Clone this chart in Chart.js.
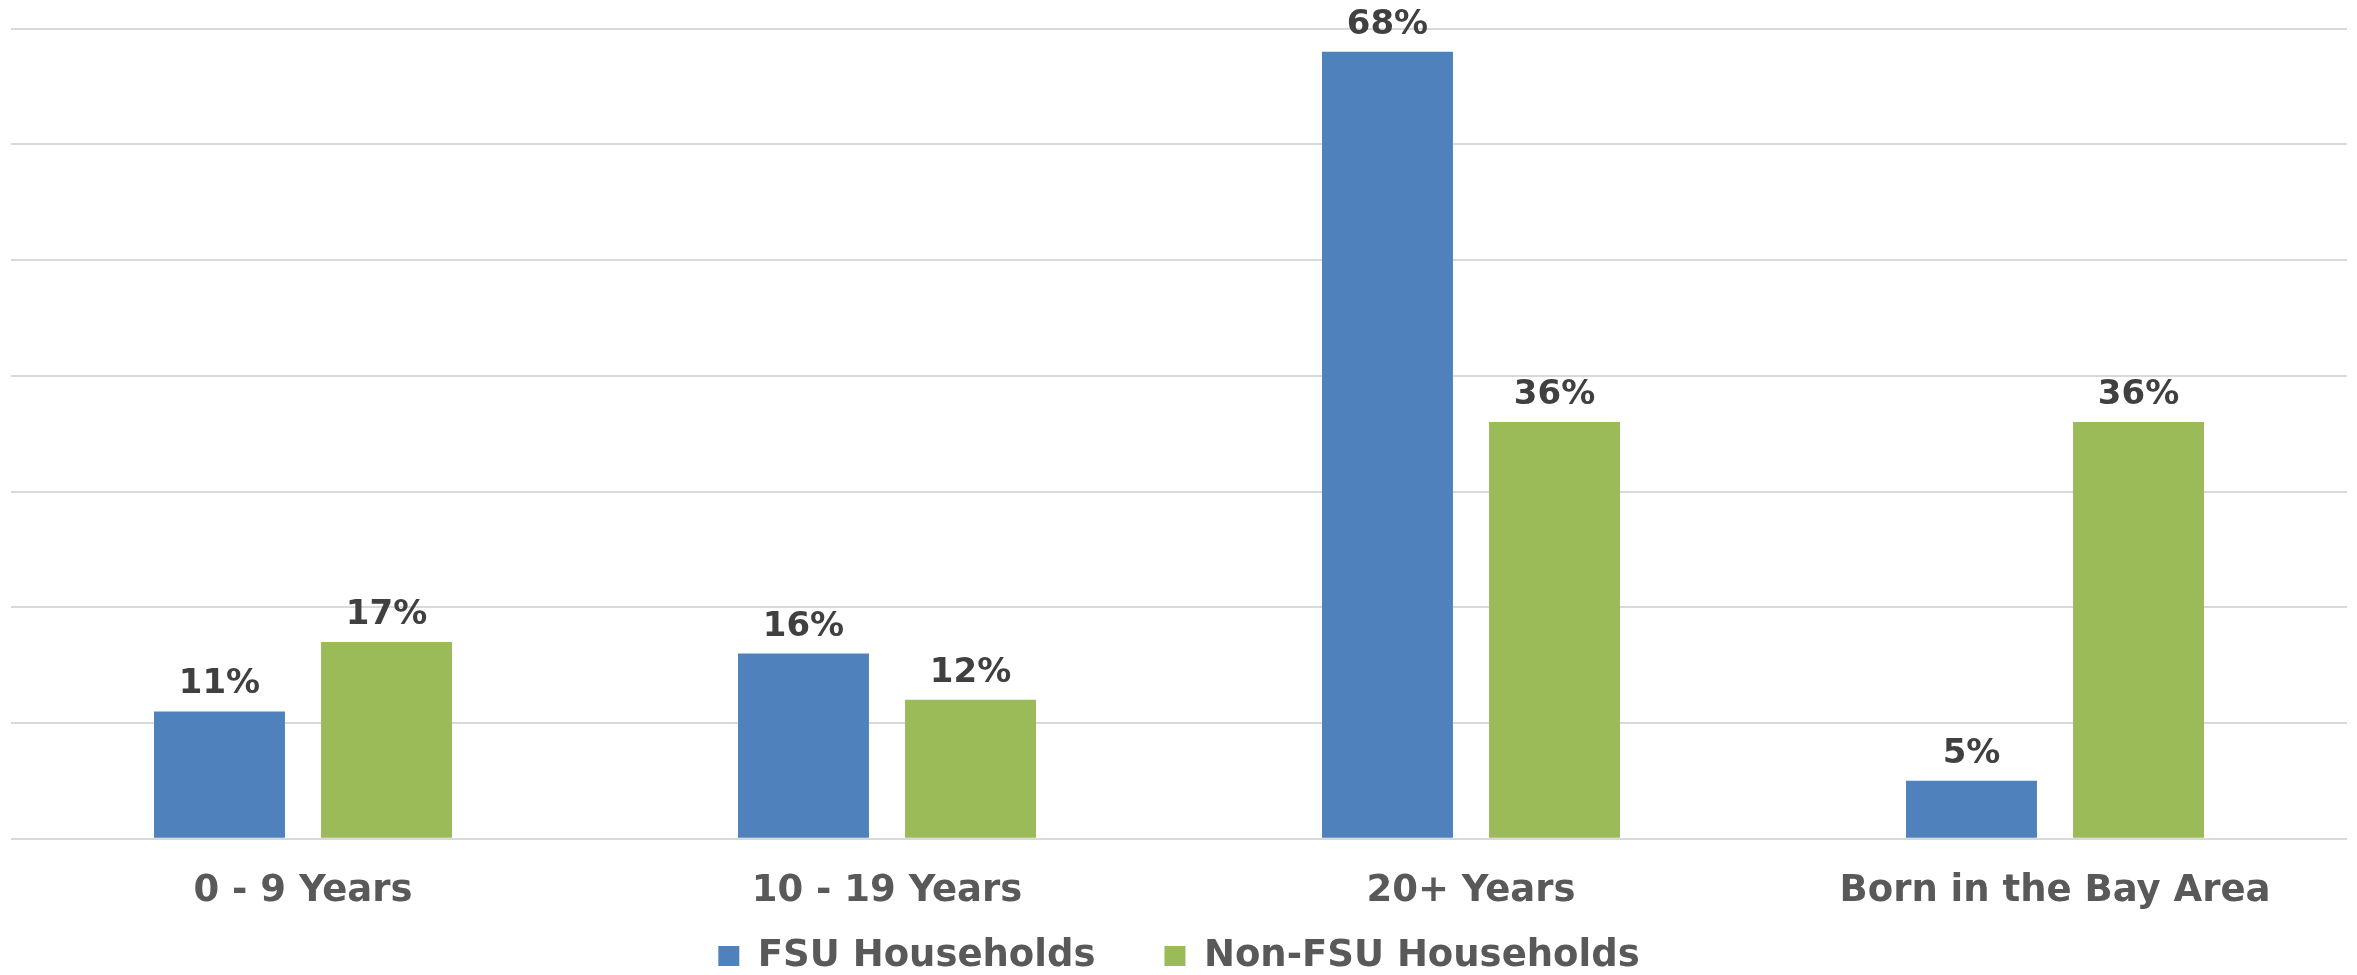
<!DOCTYPE html>
<html>
<head>
<meta charset="utf-8">
<script src="https://cdn.jsdelivr.net/npm/chart.js@4/dist/chart.umd.min.js"></script>
<style>
  html, body { margin: 0; padding: 0; background: #ffffff; }
  #wrap { width: 2357px; height: 975px; }
</style>
</head>
<body>
<div id="wrap"><canvas id="c" width="2357" height="975"></canvas></div>
<script>
const categories = ['0 - 9 Years', '10 - 19 Years', '20+ Years', 'Born in the Bay Area'];
const fsuValues = [11, 16, 68, 5];
const nonFsuValues = [17, 12, 36, 36];
const seriesNames = ['FSU Households', 'Non-FSU Households'];
const yTicks = [0, 10, 20, 30, 40, 50, 60, 70];

const FONT = "'DejaVu Sans', Verdana, sans-serif";

const valueLabels = {
  id: 'valueLabels',
  afterDatasetsDraw(chart) {
    const ctx = chart.ctx;
    ctx.save();
    ctx.font = 'bold 34px ' + FONT;
    ctx.fillStyle = '#404040';
    ctx.textAlign = 'center';
    ctx.textBaseline = 'alphabetic';
    chart.data.datasets.forEach((ds, di) => {
      const meta = chart.getDatasetMeta(di);
      meta.data.forEach((bar, i) => {
        ctx.fillText(ds.data[i] + '%', bar.x, bar.y - 18);
      });
    });
    ctx.restore();
  }
};

new Chart(document.getElementById('c'), {
  type: 'bar',
  data: {
    labels: categories,
    datasets: [
      { label: seriesNames[0], data: fsuValues, backgroundColor: '#4F81BD', borderWidth: 0,
        barPercentage: 0.784, categoryPercentage: 0.572 },
      { label: seriesNames[1], data: nonFsuValues, backgroundColor: '#9BBB59', borderWidth: 0,
        barPercentage: 0.784, categoryPercentage: 0.572 }
    ]
  },
  options: {
    responsive: false,
    animation: false,
    devicePixelRatio: 1,
    layout: { padding: { left: 11, right: 10, top: 28.6, bottom: 0 } },
    plugins: {
      tooltip: { enabled: false },
      legend: {
        position: 'bottom',
        maxHeight: 106.5,
        labels: {
          boxWidth: 21,
          boxHeight: 20,
          padding: 69,
          color: '#595959',
          font: { family: FONT, size: 37, weight: 'bold' }
        }
      }
    },
    scales: {
      x: {
        grid: { display: false },
        border: { display: false },
        ticks: {
          color: '#595959',
          padding: 22.5,
          font: { family: FONT, size: 37, weight: 'bold' },
          maxRotation: 0, autoSkip: false
        },
        afterFit(scale) {
          scale.height = 29.8;
          // let the category labels extend below the (short) axis box without clipping
          scale._computeLabelArea = () => undefined;
        }
      },
      y: {
        min: yTicks[0],
        max: yTicks[yTicks.length - 1],
        afterBuildTicks(scale) { scale.ticks = yTicks.map(v => ({ value: v })); },
        ticks: { display: false },
        grid: { color: '#d9d9d9', lineWidth: 2, drawTicks: false },
        border: { display: false }
      }
    }
  },
  plugins: [valueLabels]
});
</script>
</body>
</html>
